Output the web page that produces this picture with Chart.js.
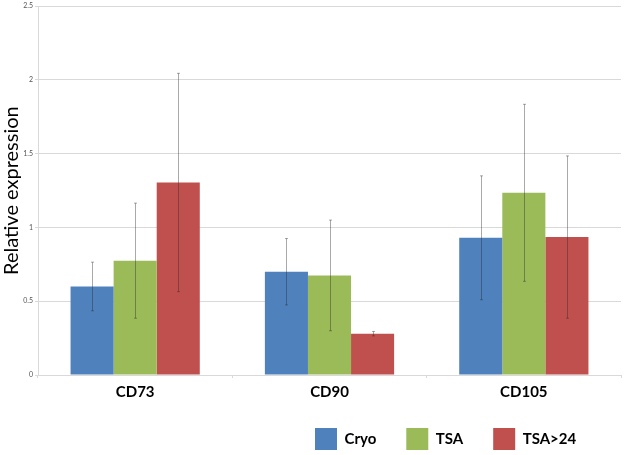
<!DOCTYPE html>
<html>
<head>
<meta charset="utf-8">
<script src="https://cdn.jsdelivr.net/npm/chart.js@4.4.1/dist/chart.umd.min.js"></script>
<style>
  html, body { margin: 0; padding: 0; background: #fff; }
  #wrap { width: 625px; height: 455px; }
</style>
</head>
<body>
<div id="wrap"><canvas id="expChart" width="625" height="455"></canvas></div>
<script>
// data
const markers = ['CD73', 'CD90', 'CD105'];
const seriesNames = ['Cryo', 'TSA', 'TSA>24'];
const cryo = [0.60, 0.70, 0.93];
const tsa = [0.775, 0.675, 1.235];
const tsa24 = [1.305, 0.28, 0.935];
const cryoErr = [0.165, 0.225, 0.42];
const tsaErr = [0.39, 0.375, 0.60];
const tsa24Err = [0.74, 0.015, 0.55];
const yTicks = [0, 0.5, 1, 1.5, 2, 2.5];

const colors = ['#4F81BD', '#9BBB59', '#C0504D'];
const allValues = [cryo, tsa, tsa24];
const allErrors = [cryoErr, tsaErr, tsa24Err];

// draws the +/- error whiskers on top of each bar
const errorBars = {
	id: 'errorBars',
	afterDatasetsDraw(chart) {
		const ctx = chart.ctx;
		const yScale = chart.scales.y;
		ctx.save();
		ctx.strokeStyle = 'rgba(40,40,40,0.4)';
		ctx.lineWidth = 1;
		chart.data.datasets.forEach(function(ds, d) {
			const meta = chart.getDatasetMeta(d);
			meta.data.forEach(function(bar, i) {
				const v = ds.data[i];
				const e = ds.errors[i];
				const x = Math.round(bar.x) + 0.5;
				const yTop = yScale.getPixelForValue(v + e);
				const yBot = yScale.getPixelForValue(v - e);
				ctx.beginPath();
				ctx.moveTo(x, yTop);
				ctx.lineTo(x, yBot);
				ctx.moveTo(x - 1.5, yTop);
				ctx.lineTo(x + 1.5, yTop);
				ctx.moveTo(x - 1.5, yBot);
				ctx.lineTo(x + 1.5, yBot);
				ctx.stroke();
			});
		});
		ctx.restore();
	}
};

// puts the legend row in the lower right, like the original
const legendSpot = {
	id: 'legendSpot',
	afterLayout(chart) {
		const lg = chart.legend;
		lg.left = 285;
		lg.right = 625;
		lg.top = 398;
		lg.bottom = 455;
		lg.width = lg.right - lg.left;
		lg.height = lg.bottom - lg.top;
	}
};

const ctx = document.getElementById('expChart').getContext('2d');
const myChart = new Chart(ctx, {
	type: 'bar',
	data: {
		labels: markers,
		datasets: seriesNames.map(function(name, k) {
			return {
				label: name,
				data: allValues[k],
				errors: allErrors[k],
				backgroundColor: colors[k],
				borderWidth: 0,
				categoryPercentage: 0.665,
				barPercentage: 1.0
			};
		})
	},
	options: {
		responsive: false,
		animation: false,
		// legend is moved by legendSpot, so give its height back
		layout: { padding: { top: 5, right: 4, left: 0, bottom: -62 } },
		plugins: {
			tooltip: { enabled: false },
			legend: {
				position: 'bottom',
				align: 'start',
				labels: {
					boxWidth: 22,
					boxHeight: 22,
					padding: 30,
					color: '#000',
					font: { family: 'Lato', size: 15, weight: 'bold' }
				}
			}
		},
		scales: {
			x: {
				grid: {
					display: true,
					drawOnChartArea: false,
					tickLength: 3,
					color: '#d9d9d9'
				},
				border: { color: '#d9d9d9' },
				ticks: {
					color: '#000',
					padding: 5,
					font: { family: 'Lato', size: 15, weight: 'bold' }
				},
				afterFit(scale) { scale.height = 80; }
			},
			y: {
				min: 0,
				max: 2.5,
				afterBuildTicks(scale) {
					scale.ticks = yTicks.map(function(v) { return { value: v }; });
				},
				grid: { color: '#d9d9d9', tickLength: 3 },
				border: { color: '#d9d9d9' },
				ticks: {
					color: '#555',
					padding: 2,
					font: { family: 'Lato', size: 7 },
					callback: function(v) { return String(v); }
				},
				title: {
					display: true,
					text: 'Relative expression',
					color: '#000',
					padding: { top: 0, bottom: 0 },
					font: { family: 'Lato', size: 20 }
				},
				afterFit(scale) { scale.width = 38; }
			}
		}
	},
	plugins: [errorBars, legendSpot]
});
</script>
</body>
</html>
